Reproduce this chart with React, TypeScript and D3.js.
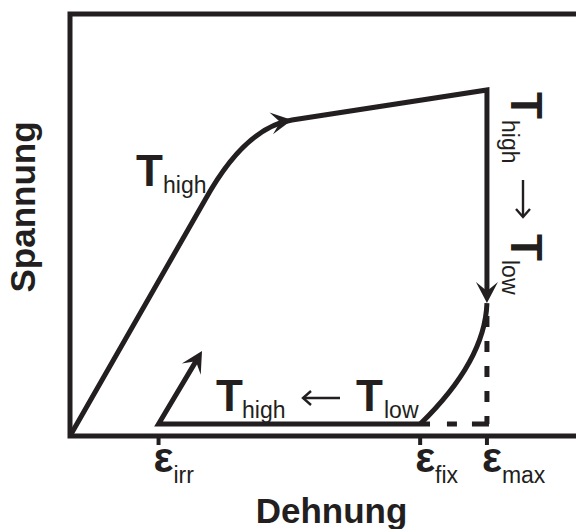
import React from "react";
import * as d3 from "d3";

const W = 576;
const H = 529;

// Strain marks on the horizontal axis (subscript of ε and strain value)
const strainTickKeys = ["irr", "fix", "max"];
const strainTickValues = [17.5, 69.2, 82.4];

// Loading at T_high: elastic straight part, bend, then plateau up to ε_max
const loadingLine: [number, number][] = [[0, 0], [26.68, 55.92]];
const loadingBend: [number, number][] = [[26.68, 55.92], [32.02, 67.54], [37.75, 73.7], [43.87, 74.88]];
const loadingPlateau: [number, number][] = [[43.87, 74.88], [82.4, 81.99]];
// Cooling at constant strain ε_max
const coolingDrop: [number, number][] = [[82.4, 81.99], [82.4, 31.5]];
// Unloading at T_low: knee -> control -> ε_fix
const unloadCurve: [number, number][] = [[82.4, 31.5], [82.0, 17.77], [69.2, 2.84]];
// Reheating: residual baseline back to ε_irr, then recovery ramp
const recoveryBase: [number, number][] = [[71.15, 2.84], [17.5, 2.84]];
const recoveryRamp: [number, number][] = [[17.5, 2.84], [26.09, 20.14]];

const INK = "#231f20";
const FONT = "'Liberation Sans', Arial, Helvetica, sans-serif";

const x = d3.scaleLinear().domain([0, 100]).range([70, 576]);
const y = d3.scaleLinear().domain([0, 100]).range([436, 14]);
const px = (p: [number, number]): [number, number] => [x(p[0]), y(p[1])];

function shorten(a: [number, number], b: [number, number], by: number): [number, number] {
  const dx = b[0] - a[0], dy = b[1] - a[1];
  const L = Math.hypot(dx, dy);
  return [b[0] - (dx / L) * by, b[1] - (dy / L) * by];
}

function Arrow({ tip, from }: { tip: [number, number]; from: [number, number] }) {
  const ang = (Math.atan2(tip[1] - from[1], tip[0] - from[0]) * 180) / Math.PI;
  return (
    <path
      d="M0,0 L-21,-11 L-12,0 L-21,11 Z"
      fill={INK}
      transform={`translate(${tip[0]},${tip[1]}) rotate(${ang})`}
    />
  );
}

// thin arrow sign between temperatures, drawn pointing +x from the origin
function SignArrow({ transform }: { transform: string }) {
  return (
    <g transform={transform} fill="none" stroke={INK} strokeWidth={2.4}>
      <path d="M0,0 H37" />
      <path d="M29,-7 L37,0 L29,7" strokeLinejoin="miter" />
    </g>
  );
}

export default function App() {
  // loading path
  const lp = d3.path();
  const [o, s] = loadingLine.map(px);
  lp.moveTo(o[0], o[1]);
  lp.lineTo(s[0], s[1]);
  const [, c1, c2, e] = loadingBend.map(px);
  lp.bezierCurveTo(c1[0], c1[1], c2[0], c2[1], e[0], e[1]);
  const corner = px(loadingPlateau[1]);
  lp.lineTo(corner[0], corner[1]);
  const knee = px(coolingDrop[1]);
  const kneeStop = shorten(corner, knee, 10);
  lp.lineTo(kneeStop[0], kneeStop[1]);

  // unloading curve at T_low
  const up = d3.path();
  const [u0, uc, u1] = unloadCurve.map(px);
  up.moveTo(u0[0], u0[1]);
  up.quadraticCurveTo(uc[0], uc[1], u1[0], u1[1]);

  // recovery baseline and ramp
  const rp = d3.path();
  const b0 = px(recoveryBase[0]);
  const b1 = px(recoveryBase[1]);
  const rTip = px(recoveryRamp[1]);
  const rStop = shorten(b1, rTip, 10);
  rp.moveTo(b0[0], b0[1]);
  rp.lineTo(b1[0], b1[1]);
  rp.lineTo(rStop[0], rStop[1]);

  const xMax = x(strainTickValues[2]);
  const xFix = x(strainTickValues[1]);
  const yLow = y(recoveryBase[0][1]);

  return (
    <svg width={W} height={H} style={{ position: "absolute", left: 0, top: 0 }}>
      <rect width={W} height={H} fill="#fff" />
      {/* frame */}
      <path
        d={`M${W},${y(100)} H${x(0)} V${y(0)} H${W}`}
        fill="none"
        stroke={INK}
        strokeWidth={5}
        strokeLinejoin="miter"
      />
      {/* strain ticks */}
      {strainTickValues.map((v, i) => (
        <line key={"t" + i} x1={x(v)} x2={x(v)} y1={y(0)} y2={y(0) + 9} stroke={INK} strokeWidth={4} />
      ))}
      {strainTickValues.map((v, i) => (
        <text key={"l" + i} x={x(v) - 5} y={472} fill={INK} fontFamily={FONT}>
          <tspan fontSize={42} fontWeight="bold">ε</tspan>
          <tspan fontSize={23} dy={11}>{strainTickKeys[i]}</tspan>
        </text>
      ))}
      {/* dashed guides at ε_max */}
      <line x1={xMax} x2={xMax} y1={knee[1]} y2={yLow} stroke={INK} strokeWidth={5} strokeDasharray="11 14" strokeDashoffset={12} />
      <line x1={xMax + 2} x2={xFix} y1={yLow} y2={yLow} stroke={INK} strokeWidth={5} strokeDasharray="17 15 10 40" />
      {/* curves */}
      <path d={lp.toString()} fill="none" stroke={INK} strokeWidth={5} strokeLinejoin="miter" />
      <path d={up.toString()} fill="none" stroke={INK} strokeWidth={5} />
      <path d={rp.toString()} fill="none" stroke={INK} strokeWidth={5} strokeLinejoin="miter" />
      <Arrow tip={e} from={c2} />
      <Arrow tip={knee} from={corner} />
      <Arrow tip={rTip} from={b1} />
      {/* temperature labels */}
      <g fill={INK} fontFamily={FONT}>
        <text x={136} y={186} fontSize={44} fontWeight="bold">T</text>
        <text x={163} y={193} fontSize={23}>high</text>

        <text x={216} y={411} fontSize={44} fontWeight="bold">T</text>
        <text x={242} y={418} fontSize={23}>high</text>
        <text x={356} y={411} fontSize={44} fontWeight="bold">T</text>
        <text x={384} y={418} fontSize={23}>low</text>

        <g transform="translate(511,92) rotate(90)">
          <text x={0} y={0} fontSize={44} fontWeight="bold">T</text>
          <text x={28} y={9} fontSize={23}>high</text>
          <text x={142} y={0} fontSize={44} fontWeight="bold">T</text>
          <text x={168} y={9} fontSize={23}>low</text>
        </g>
      </g>
      <SignArrow transform="translate(340,398) rotate(180)" />
      <SignArrow transform="translate(523,180) rotate(90)" />
      {/* axis titles */}
      <text
        transform="translate(35,207) rotate(-90)"
        textAnchor="middle"
        fontSize={35}
        fontWeight="bold"
        fill={INK}
        fontFamily={FONT}
      >
        Spannung
      </text>
      <text x={331.5} y={523} textAnchor="middle" fontSize={35} fontWeight="bold" fill={INK} fontFamily={FONT}>
        Dehnung
      </text>
    </svg>
  );
}
